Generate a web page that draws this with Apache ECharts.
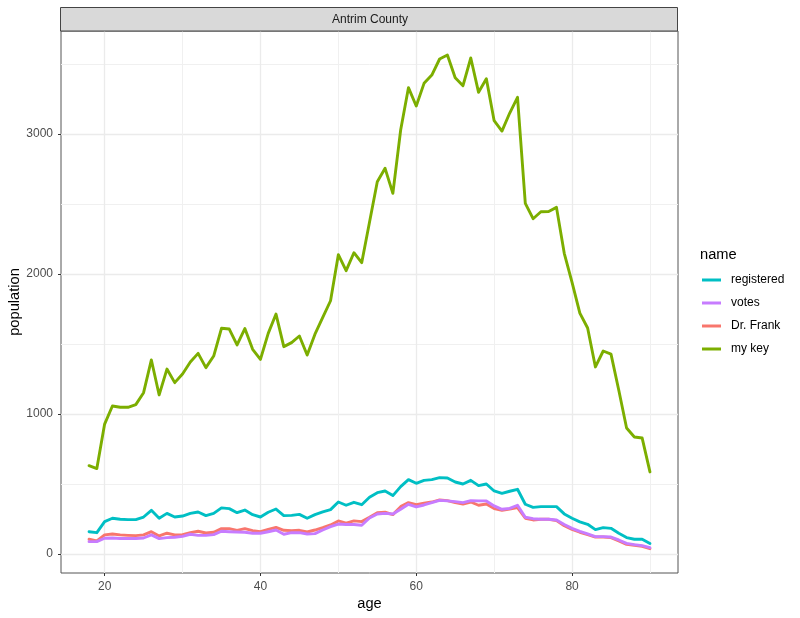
<!DOCTYPE html>
<html><head><meta charset="utf-8">
<style>html,body{margin:0;padding:0;background:#fff}#c{width:800px;height:618px}</style>
<script src="https://cdn.jsdelivr.net/npm/echarts@6/dist/echarts.min.js"></script>
</head><body><div id="c"></div>
<script>
const ages = [18,19,20,21,22,23,24,25,26,27,28,29,30,31,32,33,34,35,36,37,38,39,40,41,42,43,44,45,46,47,48,49,50,51,52,53,54,55,56,57,58,59,60,61,62,63,64,65,66,67,68,69,70,71,72,73,74,75,76,77,78,79,80,81,82,83,84,85,86,87,88,89,90];
const registered = [159,152,231,255,248,245,245,264,312,255,290,264,271,290,300,274,290,329,324,295,314,281,264,298,321,274,276,283,255,281,300,317,371,348,369,352,405,438,450,417,481,531,505,526,531,545,543,514,500,526,488,500,450,433,448,462,355,333,338,338,338,286,255,229,212,174,188,183,148,117,105,105,74];
const votes = [88,88,112,114,110,110,110,114,136,110,117,119,126,141,133,133,138,162,159,157,155,148,148,159,171,141,152,152,143,145,171,195,214,210,210,205,257,286,290,286,319,355,336,350,367,383,379,374,367,381,379,379,343,319,326,348,262,252,248,248,243,210,183,162,143,124,124,121,100,76,67,60,45];
const drFrank = [105,93,136,143,136,133,131,136,159,129,148,136,138,152,162,150,155,181,181,169,181,167,159,176,190,169,167,169,157,171,188,207,236,221,236,231,262,295,298,281,338,367,352,362,371,386,381,367,357,371,348,357,324,312,321,331,255,243,248,248,238,202,176,155,138,121,121,117,93,69,62,55,38];
const myKey = [631,610,928,1057,1048,1048,1067,1152,1386,1136,1321,1224,1286,1371,1433,1331,1414,1612,1607,1493,1610,1462,1390,1576,1714,1481,1510,1557,1421,1570,1690,1809,2138,2024,2152,2081,2370,2659,2755,2576,3029,3331,3200,3362,3421,3536,3564,3402,3345,3543,3298,3395,3095,3021,3150,3262,2505,2395,2445,2447,2476,2148,1940,1721,1614,1336,1450,1428,1170,900,836,828,586];
const xMajor = [20,40,60,80];
const xMinor = [30,50,70,90];
const yMajor = [0,1000,2000,3000];
const yMinor = [500,1500,2500,3500];
const xRange = [14.4,93.6];
const yRange = [-136,3736];
const legendOrder = ['registered','votes','Dr. Frank','my key'];
const colors = {'registered':'#00BFC4','votes':'#C77CFF','Dr. Frank':'#F8766D','my key':'#7CAE00'};
const FONT = '"Liberation Sans", Arial, sans-serif';

const pairs = a => ages.map((x,i)=>[x,a[i]]);
const line = (name,a,z) => ({name,type:'line',data:pairs(a),symbol:'none',showSymbol:false,z,
  lineStyle:{color:colors[name],width:2.9,join:'round',cap:'round'},itemStyle:{color:colors[name]}});
const minorAxis = (vals,range) => ({type:'value',min:range[0],max:range[1],
  axisLine:{show:false,onZero:false},axisLabel:{show:false},
  axisTick:{show:false,customValues:vals},
  splitLine:{show:true,lineStyle:{color:'#F0F0F0',width:1}}});
const majorAxis = (major,range,name,gap,rot,margin) => ({type:'value',min:range[0],max:range[1],
  name,nameLocation:'middle',nameGap:gap,nameRotate:rot,nameMoveOverlap:false,
  nameTextStyle:{fontFamily:FONT,fontSize:14.67,color:'#000'},
  axisLine:{show:false,onZero:false},
  axisTick:{show:true,length:3,customValues:major,lineStyle:{color:'#333',width:1}},
  axisLabel:{show:true,customValues:major,formatter:v=>String(v),fontFamily:FONT,fontSize:12,color:'#4D4D4D',margin,hideOverlap:false,showMinLabel:true,showMaxLabel:true},
  splitLine:{show:true,lineStyle:{color:'#EBEBEB',width:1.3}}});

const chart = echarts.init(document.getElementById('c'),null,{renderer:'canvas'});
chart.setOption({
  animation:false,backgroundColor:'#fff',
  title:[
    {z:20,text:'Antrim County',left:365,top:15,textAlign:'center',textVerticalAlign:'middle',
     textStyle:{fontFamily:FONT,fontSize:12,fontWeight:'normal',color:'#1A1A1A'}},
    {z:20,text:'name',left:695,top:250,textVerticalAlign:'middle',
     textStyle:{fontFamily:FONT,fontSize:14.67,fontWeight:'normal',color:'#000'}}
  ],
  grid:{left:61,right:122,top:31,bottom:45,containLabel:false,outerBoundsMode:'none',show:true,backgroundColor:'transparent',borderColor:'#555',borderWidth:1},
  xAxis:[majorAxis(xMajor,xRange,'age',23,0,8),minorAxis(xMinor,xRange)],
  yAxis:[majorAxis(yMajor,yRange,'population',39,90,8),minorAxis(yMinor,yRange)],
  legend:{orient:'vertical',left:697,top:268,itemWidth:19,itemHeight:3,itemGap:9,data:legendOrder,
    icon:'rect',selectedMode:false,
    textStyle:{fontFamily:FONT,fontSize:12,color:'#000',padding:[0,0,0,5],height:14,lineHeight:14}},
  graphic:[{type:'rect',z:10,shape:{x:60.5,y:7.5,width:617,height:23.5},style:{fill:'#D9D9D9',stroke:'#444',lineWidth:1}}],
  series:[line('registered',registered,2),line('Dr. Frank',drFrank,3),line('votes',votes,4),line('my key',myKey,5)]
});
</script></body></html>
